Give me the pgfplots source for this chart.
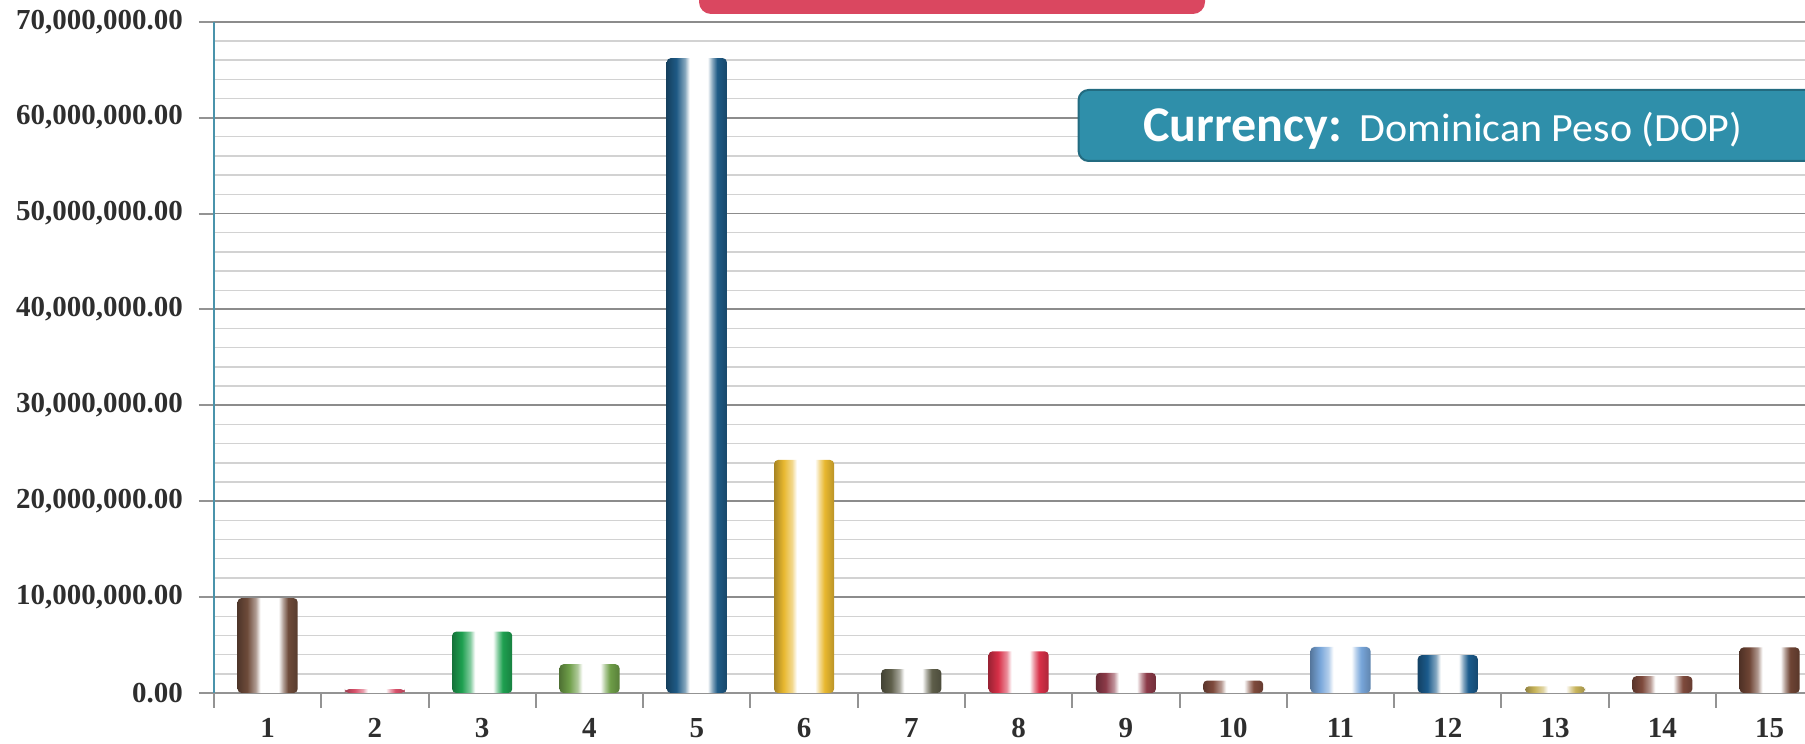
\documentclass[border=0pt]{standalone}
\usepackage{fontspec}
\setmainfont{Liberation Serif}
\newfontfamily\carlito{Carlito}
\newfontfamily\carlitowide[FakeStretch=1.05]{Carlito}
\usepackage{pgfplots}
\pgfplotsset{compat=1.18}

\definecolor{axisteal}{HTML}{4A93AB}
\definecolor{boxteal}{HTML}{2F8FAA}
\definecolor{boxred}{HTML}{DA4760}

\newcommand\defcyl[2]{%
  \definecolor{cylc#1}{HTML}{#2}%
  \pgfdeclarehorizontalshading{cyl#1}{100bp}{%
    color(0bp)=(cylc#1!70!black); color(25bp)=(cylc#1!72!black);
    color(33bp)=(cylc#1); color(40bp)=(cylc#1!55!white);
    color(44bp)=(white); color(59bp)=(white);
    color(63bp)=(cylc#1!55!white); color(67bp)=(cylc#1);
    color(75bp)=(cylc#1!80!black); color(100bp)=(cylc#1!80!black)}}
\defcyl{1}{6E4B3A}
\defcyl{2}{D8506A}
\defcyl{3}{1EA050}
\defcyl{4}{6E9E48}
\defcyl{5}{1E5A85}
\defcyl{6}{E8B830}
\defcyl{7}{5E5E4A}
\defcyl{8}{D83048}
\defcyl{9}{8C3A48}
\defcyl{10}{7E4A3C}
\defcyl{11}{78A6DA}
\defcyl{12}{1B5B8C}
\defcyl{13}{C8B45A}
\defcyl{14}{7E4A3C}
\defcyl{15}{6E4434}

\pgfplotsset{cyl/.style={ybar, bar width=0.56, bar shift=0pt, draw=none, shading=cyl#1, rounded corners=2pt}}

\begin{document}
\begin{tikzpicture}
\useasboundingbox (0,0) rectangle (902.5pt,372pt);
\begin{scope}
\clip (0,0) rectangle (902.5pt,372pt);
\begin{axis}[
  at={(107pt,25.5pt)}, anchor=south west,
  scale only axis, width=795.5pt, height=335.65pt,
  xmin=0.5, xmax=15.33, ymin=0, ymax=70000000,
  axis x line*=bottom, axis y line*=left,
  x axis line style={draw=gray!85, line width=1pt, -},
  y axis line style={draw=axisteal, line width=1pt, -},
  xtick={0.5,1.5,...,14.5}, xticklabels={},
  extra x ticks={1,2,...,15},
  extra x tick style={major tick length=0pt, grid=none},
  ytick={0,10000000,20000000,30000000,40000000,50000000,60000000,70000000},
  minor y tick num=4,
  ymajorgrids, yminorgrids, xmajorgrids=false,
  major grid style={draw=gray!90, line width=0.9pt},
  minor grid style={draw=gray!35, line width=0.7pt},
  tick align=outside,
  major tick length=7.5pt,
  minor tick length=0pt,
  tick style={draw=gray!85, line width=1pt},
  scaled y ticks=false,
  /pgf/number format/assume math mode=true,
  /pgf/number format/1000 sep={,},
  yticklabel style={font=\fontsize{14.5}{17}\selectfont\bfseries, text=black!82, xshift=-4.5pt, /pgf/number format/fixed, /pgf/number format/fixed zerofill, /pgf/number format/precision=2},
  xticklabel style={font=\fontsize{14.5}{17}\selectfont\bfseries, text=black!82, yshift=-9pt},
]
\addplot[cyl=1]  coordinates {(1,9900000)};
\addplot[cyl=2]  coordinates {(2,400000)};
\addplot[cyl=3]  coordinates {(3,6400000)};
\addplot[cyl=4]  coordinates {(4,3000000)};
\addplot[cyl=5]  coordinates {(5,66200000)};
\addplot[cyl=6]  coordinates {(6,24300000)};
\addplot[cyl=7]  coordinates {(7,2500000)};
\addplot[cyl=8]  coordinates {(8,4350000)};
\addplot[cyl=9]  coordinates {(9,2100000)};
\addplot[cyl=10] coordinates {(10,1300000)};
\addplot[cyl=11] coordinates {(11,4800000)};
\addplot[cyl=12] coordinates {(12,3950000)};
\addplot[cyl=13] coordinates {(13,700000)};
\addplot[cyl=14] coordinates {(14,1750000)};
\addplot[cyl=15] coordinates {(15,4750000)};
\end{axis}
\fill[boxred, rounded corners=6pt] (349.5pt,365pt) rectangle (602.5pt,395pt);
\fill[boxteal, draw=boxteal!75!black, line width=1pt, rounded corners=5pt] (539.3pt,291.5pt) rectangle (920pt,327pt);
\node[anchor=base west, inner sep=0pt, text=white] at (571.5pt,301pt) {\carlito\fontsize{25}{29}\selectfont\bfseries Currency:\,\carlitowide\fontsize{20}{24}\selectfont\mdseries\ Dominican Peso (DOP)};
\end{scope}
\end{tikzpicture}
\end{document}
